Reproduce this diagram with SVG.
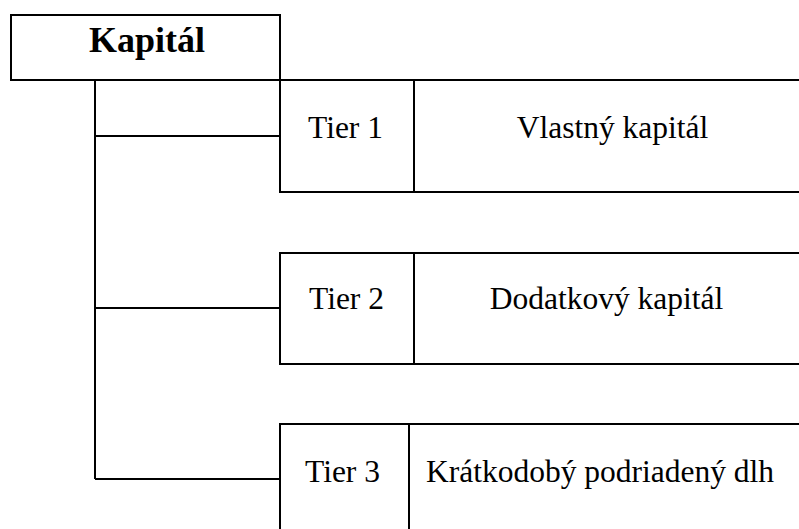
<svg xmlns="http://www.w3.org/2000/svg" width="799" height="529" viewBox="0 0 799 529">
<style>
.ln{stroke:#000;stroke-width:2;fill:none}
.t{font-family:"Liberation Serif","Times New Roman",serif;font-size:31.5px;fill:#000;text-anchor:middle}
.b{font-family:"Liberation Serif","Times New Roman",serif;font-size:36px;font-weight:bold;fill:#000;text-anchor:middle}
</style>
<rect width="799" height="529" fill="#fff"/>
<g id="kapital">
<rect class="ln" x="11" y="15" width="269" height="65"/>
<text class="b" x="147" y="52">Kapitál</text>
</g>
<g id="tier1">
<path class="ln" d="M280 80 H800 M280 80 V192 H800 M414 80 V192"/>
<text class="t" x="345.5" y="138">Tier 1</text>
<text class="t" x="612.5" y="138">Vlastný kapitál</text>
</g>
<g id="tier2">
<path class="ln" d="M800 253 H280 V364 H800 M414 253 V364"/>
<text class="t" x="346.5" y="309">Tier 2</text>
<text class="t" x="606.5" y="309">Dodatkový kapitál</text>
</g>
<g id="tier3">
<path class="ln" d="M800 424 H280 V530 M409 424 V530"/>
<text class="t" x="342.5" y="482">Tier 3</text>
<text class="t" x="600" y="482">Krátkodobý podriadený dlh</text>
</g>
<g id="connectors">
<path class="ln" d="M95 80 V479 M95 136 H280 M95 308 H280 M95 479 H280"/>
</g>
</svg>
